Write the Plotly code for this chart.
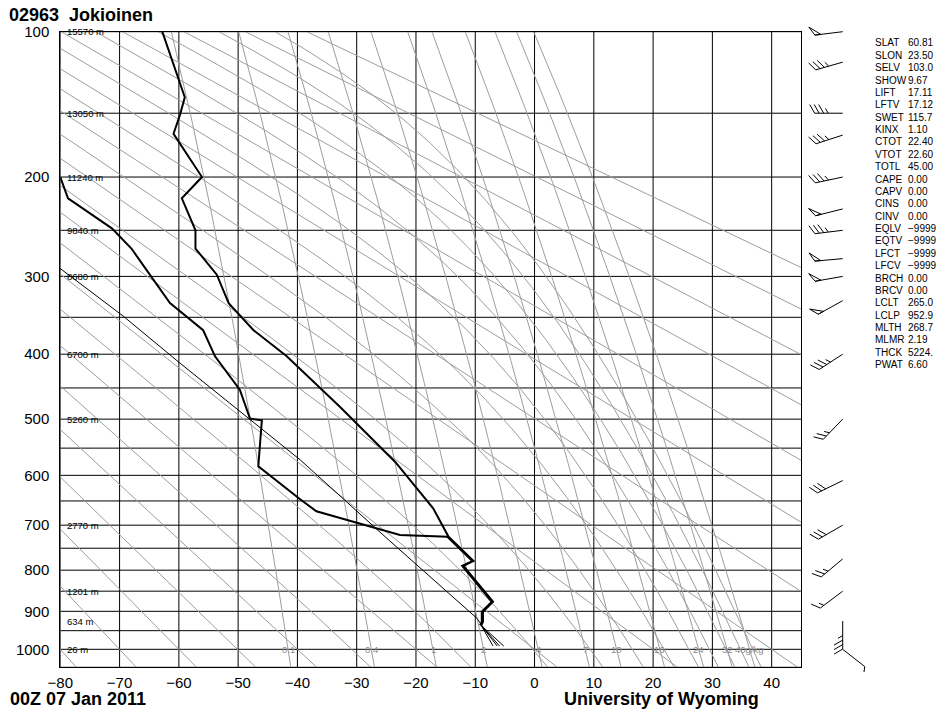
import numpy as np
import plotly.graph_objects as go

KAPPA = 0.2857  # Stuve diagram: vertical coordinate is p**kappa

# ---------------- sounding values ----------------
temp_p = [100, 139, 151, 165, 200, 219, 250, 269, 298, 332, 367, 403, 480, 575, 665, 703, 725, 779, 790, 876, 901, 927, 936]
temp_c = [-62.8, -59.0, -59.8, -60.9, -56.1, -59.5, -57.2, -57.2, -53.6, -51.6, -47.4, -41.8, -32.8, -23.5,
          -17.1, -15.4, -14.5, -10.3, -12.0, -7.0, -8.7, -8.7, -9.0]
dwpt_p = [200, 219, 248, 269, 298, 332, 367, 403, 453, 499, 502, 583, 646, 671, 721, 725, 779, 790, 876, 901, 927, 936]
dwpt_c = [-80.0, -78.7, -71.3, -68.0, -64.9, -61.5, -55.9, -53.9, -49.7, -48.0, -46.0, -46.6, -39.6, -36.8,
          -22.7, -14.7, -10.5, -12.2, -7.2, -8.9, -8.9, -9.2]
parcel_p = [952.9, 918, 733, 571.5, 412.9, 348.4, 290.8]
parcel_c = [-8.15, -9.7, -24.5, -39.5, -59.8, -69.4, -80.05]
fan_top_p = 936
fan_top_c = -9.0
fan_bot_p = 991
fan_bot_c = [-7.0, -6.3, -5.9, -5.2]

# wind barbs (pressure hPa, direction deg, speed kt)
wind_p = [100, 117, 150, 166, 200, 229, 250, 280, 300, 329, 400, 500, 610, 700, 774, 850, 925, 1000]
wind_dir = [263, 254, 270, 252, 258, 256, 263, 265, 260, 241, 237, 224, 244, 240, 230, 233, 180, 128]
wind_kt = [50, 35, 35, 35, 35, 50, 35, 50, 50, 50, 35, 25, 30, 30, 25, 15, 35, 5]

# standard level heights
hgt_p = [100, 150, 200, 250, 300, 400, 500, 700, 850, 925, 1000]
hgt_txt = ["15570 m", "13050 m", "11240 m", "9840 m", "8680 m", "6700 m", "5260 m", "2770 m", "1201 m", "634 m", "26 m"]

# station indices
idx_names = ["SLAT", "SLON", "SELV", "SHOW", "LIFT", "LFTV", "SWET", "KINX", "CTOT", "VTOT", "TOTL", "CAPE",
             "CAPV", "CINS", "CINV", "EQLV", "EQTV", "LFCT", "LFCV", "BRCH", "BRCV", "LCLT", "LCLP", "MLTH",
             "MLMR", "THCK", "PWAT"]
idx_vals = ["60.81", "23.50", "103.0", "9.67", "17.11", "17.12", "115.7", "1.10", "22.40", "22.60", "45.00",
            "0.00", "0.00", "0.00", "0.00", "\u22129999", "\u22129999", "\u22129999", "\u22129999", "0.00", "0.00",
            "265.0", "952.9", "268.7", "2.19", "5224.", "6.60"]

# diagram background
iso_t = list(range(-80, 41, 10))
iso_p = list(range(100, 1051, 50))
tick_p = list(range(100, 1001, 100))
dry_theta = list(range(-80, 181, 20))        # potential temperature, deg C
moist_thetae = list(range(-70, 171, 20))     # equivalent potential temperature, deg C
mr_vals = [0.1, 0.4, 1, 2, 4, 7, 10, 16, 24, 32, 40]
mr_txt = ["0.1", "0.4", "1", "2", "4", "7", "10", "16", "24", "32", "40g/kg"]

T_MIN, T_MAX = -80, 45
P_BOT, P_TOP = 1050, 100

# ---------------- geometry (page pixels; the page body adds an 8px offset) ----------------
W, H = 952, 716
OFF = 8
PL, PR, PT, PB = 60.3, 801.3, 31.7, 667.3   # plot area in page pixels


def pk(p):
    return np.asarray(p, dtype=float) ** KAPPA


YS = (PB - PT) / (pk(P_BOT) - pk(P_TOP))   # pixels per unit of p**kappa
FONT = "Liberation Sans, Arial, sans-serif"
GREY = "#9d9d9d"

fig = go.Figure()


def add_multi(segs, color, width, xa="x", ya="y"):
    xs, ys = [], []
    for sx, sy in segs:
        xs += list(sx) + [None]
        ys += list(sy) + [None]
    fig.add_trace(go.Scatter(x=xs, y=ys, mode="lines", line=dict(color=color, width=width),
                             hoverinfo="skip", showlegend=False, xaxis=xa, yaxis=ya))


# black grid
add_multi([([t, t], [pk(P_BOT), pk(P_TOP)]) for t in iso_t], "black", 1)
add_multi([([T_MIN, T_MAX], [pk(p), pk(p)]) for p in iso_p], "black", 1)

pp = np.linspace(P_TOP, P_BOT, 200)

# dry adiabats
add_multi([((th + 273.15) * (pp / 1000.0) ** KAPPA - 273.15, pk(pp)) for th in dry_theta], GREY, 1)


# saturation mixing ratio lines
def td_from_w(w, p):
    e = w * p / (622.0 + w)
    l = np.log(e / 6.112)
    return 243.5 * l / (17.67 - l)


add_multi([(td_from_w(w, pp), pk(pp)) for w in mr_vals], GREY, 1)

# pseudo-adiabats
Rd, CP, LV, EPS = 287.04, 1005.7, 2.501e6, 0.622


def esat(tc):
    return 6.112 * np.exp(17.67 * tc / (tc + 243.5))


def theta_e(tk, p):
    e = esat(tk - 273.15)
    r = 622.0 * e / (p - e)
    return tk * (1000.0 / p) ** (0.2854 * (1 - 0.00028 * r)) * np.exp((3.376 / tk - 0.00254) * r * (1 + 0.00081 * r))


def t1000_for(the_k):
    lo, hi = 150.0, 330.0
    for _ in range(60):
        mid = 0.5 * (lo + hi)
        if theta_e(mid, 1000.0) > the_k:
            hi = mid
        else:
            lo = mid
    return 0.5 * (lo + hi)


def dTdp(T, p):
    e = esat(T - 273.15)
    rs = EPS * e / (p - e)
    return (Rd * T + LV * rs) / (p * (CP + LV * LV * rs * EPS / (Rd * T * T)))


def integrate(T0, p0, p1, n=400):
    ps = np.linspace(p0, p1, n)
    Ts = [T0]
    for i in range(n - 1):
        h = ps[i + 1] - ps[i]
        T, p = Ts[-1], ps[i]
        k1 = dTdp(T, p)
        k2 = dTdp(T + h * k1 / 2, p + h / 2)
        k3 = dTdp(T + h * k2 / 2, p + h / 2)
        k4 = dTdp(T + h * k3, p + h)
        Ts.append(T + h * (k1 + 2 * k2 + 2 * k3 + k4) / 6)
    return ps, np.array(Ts)


moist = []
for th_e in moist_thetae:
    t0 = t1000_for(th_e + 273.15)
    pu, tu = integrate(t0, 1000.0, P_TOP)
    pd, td = integrate(t0, 1000.0, P_BOT, 40)
    p_all = np.concatenate([pd[::-1], pu[1:]])
    t_all = np.concatenate([td[::-1], tu[1:]]) - 273.15
    moist.append((t_all, pk(p_all)))
add_multi(moist, GREY, 1)

# parcel path and surface lines
fig.add_trace(go.Scatter(x=parcel_c, y=pk(parcel_p), mode="lines", line=dict(color="black", width=1),
                         hoverinfo="skip", showlegend=False))
add_multi([([fan_top_c, c], [pk(fan_top_p), pk(fan_bot_p)]) for c in fan_bot_c], "black", 1)

# sounding
fig.add_trace(go.Scatter(x=dwpt_c, y=pk(dwpt_p), mode="lines", line=dict(color="black", width=2),
                         hoverinfo="skip", showlegend=False))
fig.add_trace(go.Scatter(x=temp_c, y=pk(temp_p), mode="lines", line=dict(color="black", width=2),
                         hoverinfo="skip", showlegend=False))

# ---------------- wind barbs (x2: page pixels, y2: p**kappa) ----------------
BX = 842.7
STAFF = 28
barb_segs = []
for p, d, spd in zip(wind_p, wind_dir, wind_kt):
    r = np.radians(d)
    ux, uy = np.sin(r), -np.cos(r)
    a = np.radians(60)
    bx, by = ux * np.cos(a) - uy * np.sin(a), ux * np.sin(a) + uy * np.cos(a)
    y0 = float(pk(p))

    def P(dist, ox=0.0, oy=0.0):
        return BX + ux * dist + ox, y0 + (uy * dist + oy) / YS

    def seg(pts):
        barb_segs.append(([q[0] for q in pts], [q[1] for q in pts]))

    seg([P(0), P(STAFF)])
    n50 = spd // 50
    n10 = (spd - 50 * n50) // 10
    n5 = (spd - 50 * n50 - 10 * n10) // 5
    pos = STAFF
    for _ in range(n50):
        seg([P(pos), P(pos, bx * 10, by * 10), P(pos - 6), P(pos)])
        pos -= 8
    for _ in range(n10):
        seg([P(pos), P(pos, bx * 10, by * 10)])
        pos -= 4.5
    for _ in range(n5):
        seg([P(pos), P(pos, bx * 5.5, by * 5.5)])
        pos -= 4.5
add_multi(barb_segs, "black", 1, "x2", "y2")


# ---------------- layout ----------------
def fx(px):   # page x -> paper fraction
    return (px - OFF) / W


def fy(py):   # page y -> paper fraction
    return (H - (py - OFF)) / H


y2_top = float(pk(P_TOP)) - (PT - OFF) / YS
y2_bot = float(pk(P_BOT)) + (H + OFF - PB) / YS

axis_common = dict(showgrid=False, zeroline=False, showline=True, mirror=True, linecolor="black",
                   linewidth=1, ticks="outside", tickcolor="rgba(0,0,0,0)", automargin=False,
                   tickfont=dict(family=FONT, size=15, color="black"))

fig.update_layout(
    width=W, height=H, margin=dict(l=0, r=0, t=0, b=0, pad=0),
    paper_bgcolor="white", plot_bgcolor="white", showlegend=False,
    title=dict(text="<b>02963\u00a0 Jokioinen</b>", x=fx(9), xanchor="left", xref="paper",
               y=fy(15), yanchor="middle", yref="container",
               font=dict(family=FONT, size=18, color="black")),
    xaxis=dict(domain=[fx(PL), fx(PR)], range=[T_MIN, T_MAX], tickvals=iso_t, ticklen=2, **axis_common),
    yaxis=dict(domain=[fy(PB), fy(PT)], range=[float(pk(P_BOT)), float(pk(P_TOP))],
               tickvals=list(pk(tick_p)), ticktext=[str(p) for p in tick_p], ticklen=7, **axis_common),
    xaxis2=dict(domain=[fx(805), fx(880)], range=[805, 880], visible=False, anchor="y2", automargin=False),
    yaxis2=dict(domain=[0, 1], range=[y2_bot, y2_top], visible=False, anchor="x2", automargin=False),
)

ann = []
for p, t in zip(hgt_p, hgt_txt):
    ann.append(dict(x=-79.2, y=float(pk(p)), xref="x", yref="y", text=t, showarrow=False, xanchor="left",
                    yanchor="middle", font=dict(family=FONT, size=9.5, color="black")))
for w, t in zip(mr_vals, mr_txt):
    ann.append(dict(x=float(td_from_w(w, 1000.0)), y=float(pk(1000)), xref="x", yref="y", text=t,
                    showarrow=False, xanchor="center", yanchor="middle",
                    font=dict(family=FONT, size=9.5, color="#8a8a8a")))
row0, drow = 43.0, 12.37
for i, (n, v) in enumerate(zip(idx_names, idx_vals)):
    yy = fy(row0 + i * drow)
    ann.append(dict(x=fx(873), y=yy, xref="paper", yref="paper", text=n, showarrow=False, xanchor="left",
                    yanchor="middle", font=dict(family=FONT, size=10, color="black")))
    ann.append(dict(x=fx(906), y=yy, xref="paper", yref="paper", text=v, showarrow=False, xanchor="left",
                    yanchor="middle", font=dict(family=FONT, size=10, color="black")))

ann.append(dict(x=fx(8), y=fy(699), xref="paper", yref="paper", text="<b>00Z 07 Jan 2011</b>",
                showarrow=False, xanchor="left", yanchor="middle", font=dict(family=FONT, size=18, color="black")))
ann.append(dict(x=fx(562), y=fy(699), xref="paper", yref="paper", text="<b>University of Wyoming</b>",
                showarrow=False, xanchor="left", yanchor="middle", font=dict(family=FONT, size=18, color="black")))
fig.update_layout(annotations=ann)

fig.write_html("out.html")
